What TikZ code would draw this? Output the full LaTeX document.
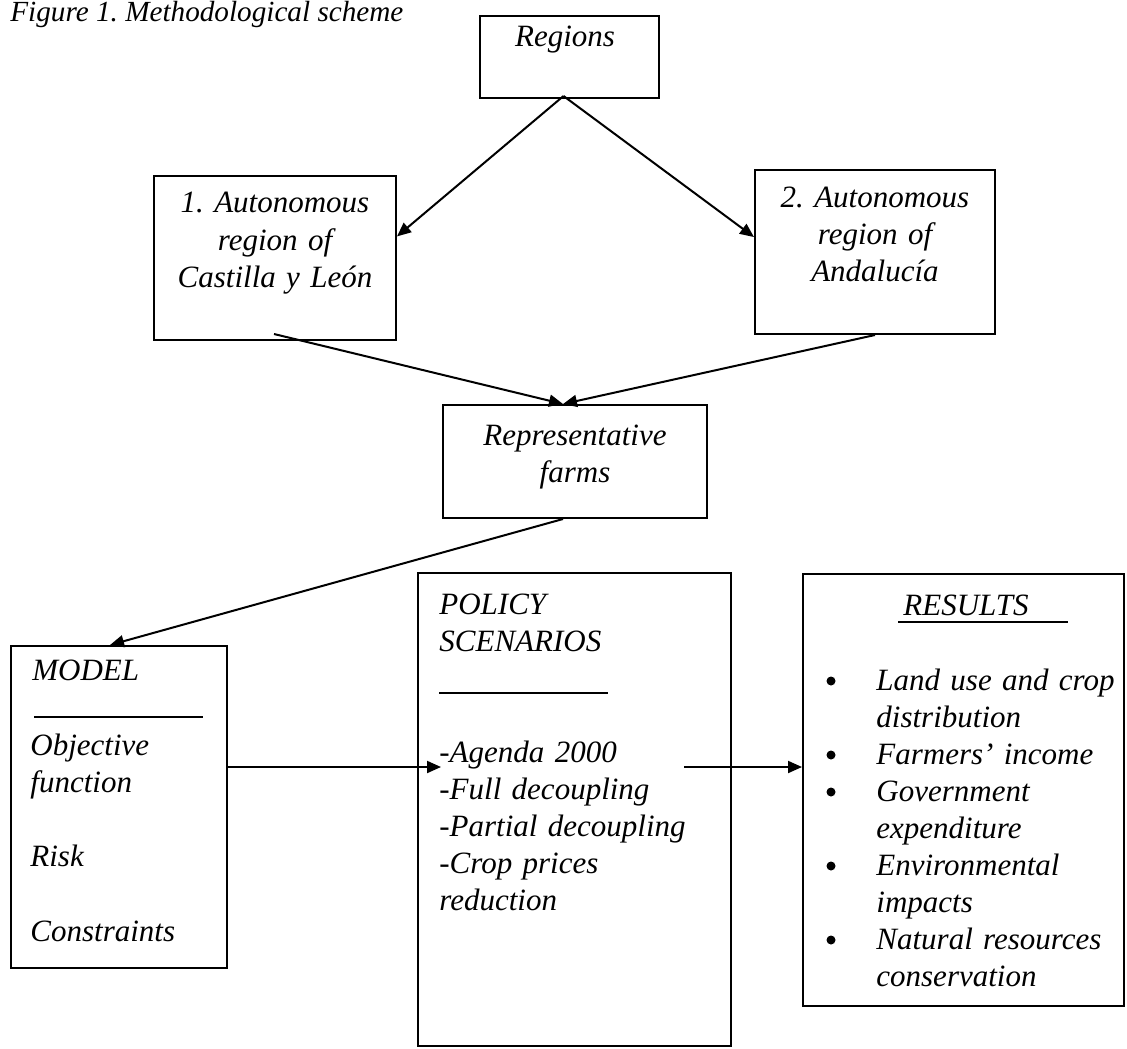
\documentclass[tikz,border=0pt]{standalone}
\usepackage{fontspec}
\setmainfont{Liberation Serif}
\usetikzlibrary{arrows.meta,calc,fit}
\frenchspacing

\tikzset{
  box/.style={draw, line width=1pt, inner sep=0pt},
  txt/.style={inner sep=0pt, font=\fontsize{15.5}{18.6}\selectfont\itshape},
  arr/.style={line width=1pt, -{Triangle[length=7pt,width=6pt]}},
  rule/.style={line width=0.8pt},
}

\begin{document}
\begin{tikzpicture}[x=0.5pt,y=-0.5pt]
  \useasboundingbox (0,0) rectangle (1127,1048);
  % titlul
  \node[txt, anchor=base west, font=\fontsize{14.6}{18}\selectfont\itshape] (title) at (10,22) {Figure 1. Methodological scheme};

  % casetele
  \node[box, fit={(480,16) (659,98)}] (regions) {};
  \node[box, fit={(154,176) (396,340)}] (cyl) {};
  \node[box, fit={(755,170) (995,334)}] (andal) {};
  \node[box, fit={(443,405) (707,518)}] (farms) {};
  \node[box, fit={(11,646) (227,968)}] (model) {};
  \node[box, fit={(418,573) (731,1046)}] (policy) {};
  \node[box, fit={(803,574) (1124,1006)}] (results) {};

  % textele din casete
  \node[txt, anchor=base] (t-regions) at (565,47) {Regions};
  \node[txt, anchor=base, align=center, text width=110pt] (t-cyl) at (275,213) {1. Autonomous\\region of\\Castilla y León};
  \node[txt, anchor=base, align=center, text width=110pt] (t-andal) at (875,207) {2. Autonomous\\region of\\Andalucía};
  \node[txt, anchor=base, align=center, text width=125pt] (t-farms) at (575,445) {Representative\\farms};

  % modelul
  \node[txt, anchor=base west] (t-model) at (32,680) {MODEL};
  \draw[rule] (34,717) -- (203,717);
  \node[txt, anchor=base west, align=left, text width=95pt] (t-obj) at (30,755) {Objective\\function\\[18.6pt]Risk\\[18.6pt]Constraints};

  % scenariile
  \node[txt, anchor=base west, align=left, text width=142pt] (t-policy) at (439,614) {POLICY\\SCENARIOS};
  \draw[rule] (439,693) -- (608,693);
  \node[txt, anchor=base west, align=left, text width=142pt] (t-scen) at (439,762) {-Agenda 2000\\-Full decoupling\\-Partial decoupling\\-Crop prices\\reduction};

  % rezultatele
  \node[txt, anchor=base west] (t-results) at (903,615) {RESULTS};
  \draw[rule] (898,622) -- (1068,622);
  \foreach \y/\lbl [count=\i] in {690/{Land use and crop\\distribution}, 764/{Farmers’ income}, 801/{Government\\expenditure}, 875/{Environmental\\impacts}, 949/{Natural resources\\conservation}} {
    \fill (831,\y-9) circle (4.5);
    \node[txt, anchor=base west, align=left, text width=130pt] (res-\i) at (876,\y) {\lbl};
  }

  % sagetile
  \coordinate (apex) at ($(regions.south)+(-6,-3)$);
  \draw[arr] (apex) -- ($(cyl.north east)!0.37!(cyl.south east)$);
  \draw[arr] (apex) -- ($(andal.north west)!0.41!(andal.south west)$);
  \coordinate (meet) at ($(farms.north)+(-12,0)$);
  \draw[arr] ($(cyl.south)+(-1,-7)$) -- (meet);
  \draw[arr] (andal.south) -- (meet);
  \draw[arr] ($(farms.south)+(-12,0)$) -- ($(model.north)+(-9,0)$);
  \coordinate (row) at (0,767);
  \draw[arr] (model.east |- row) -- ($(policy.west |- row)+(24,0)$);
  \draw[arr] ($(policy.east |- row)+(-48,0)$) -- (results.west |- row);
\end{tikzpicture}
\end{document}
